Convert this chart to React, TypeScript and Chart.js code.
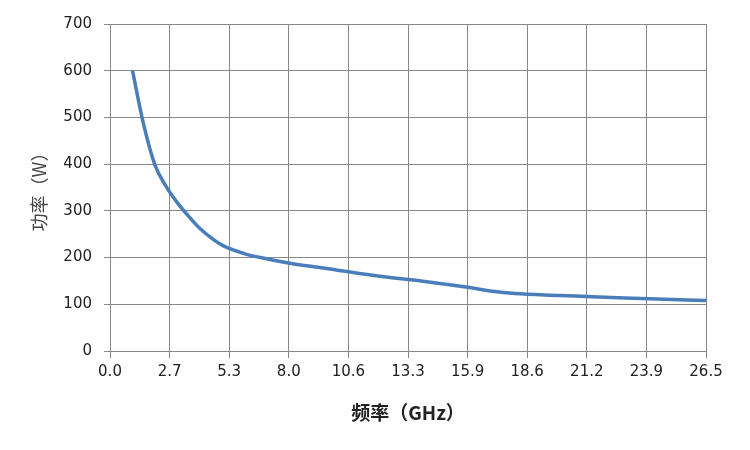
import React, { useEffect, useRef } from "react";
import { Chart, registerables } from "chart.js";

Chart.register(...registerables);

const FREQ_GHZ = [1, 1.5, 2, 2.5, 3, 3.5, 4, 4.5, 5, 6, 7, 8, 10, 12, 14, 16, 17, 18, 20, 22, 24, 26.5];
const POWER_W = [600, 484, 398, 352, 317, 288, 262, 242, 226, 208, 197, 188, 174, 160, 149, 136, 128, 123, 119, 115, 112, 108];
const X_TICKS = [0, 2.65, 5.3, 7.95, 10.6, 13.25, 15.9, 18.55, 21.2, 23.85, 26.5];
const X_TICK_LABELS = ["0.0", "2.7", "5.3", "8.0", "10.6", "13.3", "15.9", "18.6", "21.2", "23.9", "26.5"];
const Y_TICKS = [0, 100, 200, 300, 400, 500, 600, 700];

export default function App() {
  const ref = useRef<HTMLCanvasElement | null>(null);
  useEffect(() => {
    document.body.style.margin = "0";
    const canvas = ref.current;
    if (!canvas) return;
    const tickFont = { family: "DejaVu Sans", size: 15 };
    const chart = new Chart(canvas, {
      type: "line",
      data: {
        datasets: [
          {
            data: FREQ_GHZ.map((x, i) => ({ x, y: POWER_W[i] })),
            borderColor: "#4a7ebb",
            borderWidth: 3.5,
            pointRadius: 0,
            cubicInterpolationMode: "monotone",
            fill: false,
          },
        ],
      },
      options: {
        animation: false,
        responsive: false,
        devicePixelRatio: 1,
        layout: { padding: { left: 28, right: 44, top: 24, bottom: 26 } },
        plugins: { legend: { display: false }, tooltip: { enabled: false } },
        scales: {
          x: {
            type: "linear",
            min: 0,
            max: 26.5,
            afterBuildTicks: (s: any) => {
              s.ticks = X_TICKS.map((v) => ({ value: v }));
            },
            afterFit: (s: any) => {
              s.height = 73;
            },
            ticks: {
              autoSkip: false,
              maxRotation: 0,
              color: "#222",
              font: tickFont,
              padding: 5,
              callback: (_v: any, i: number) => X_TICK_LABELS[i],
            },
            grid: { color: "#878787", lineWidth: 1, tickLength: 7 },
            border: { color: "#878787" },
            title: {
              display: true,
              text: "频率（GHz）",
              color: "#222",
              font: { family: "Noto Sans CJK SC", size: 19, weight: "bold" },
              padding: { top: 6, bottom: 0 },
            },
          },
          y: {
            min: 0,
            max: 700,
            afterBuildTicks: (s: any) => {
              s.ticks = Y_TICKS.map((v) => ({ value: v }));
            },
            afterFit: (s: any) => {
              s.width = 82;
            },
            ticks: { color: "#222", font: tickFont, padding: 12 },
            grid: { color: "#878787", lineWidth: 1, tickLength: 6 },
            border: { color: "#878787" },
            title: {
              display: true,
              text: "功率（W）",
              color: "#444",
              font: { family: "Noto Sans CJK SC", size: 18 },
              padding: { top: 0, bottom: 4 },
            },
          },
        },
      },
    } as any);
    return () => chart.destroy();
  }, []);
  return <canvas ref={ref} width={750} height={450} style={{ display: "block", width: 750, height: 450 }} />;
}
